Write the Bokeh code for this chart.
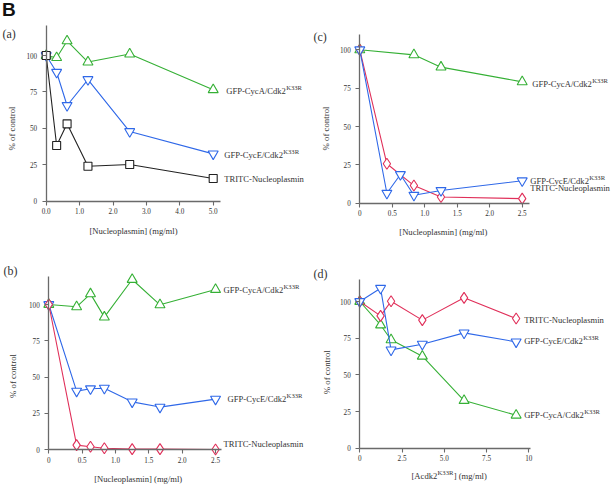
import math
from bokeh.plotting import figure
from bokeh.layouts import column, row
from bokeh.models import Label, FixedTicker
from bokeh.core.properties import value
from bokeh.embed import file_html
from bokeh.resources import INLINE

# ---------------- data ----------------
a_x = [0, 0.3125, 0.625, 1.25, 2.5, 5.0]
a_cyca = [100, 98.5, 110, 95.5, 101, 76.5]
a_cyce = [100, 88.5, 65.7, 83.5, 47.8, 32.5]
a_tritc = [100, 38.2, 53.1, 24.0, 25.2, 15.6]

b_x = [0, 0.417, 0.625, 0.833, 1.25, 1.667, 2.5]
b_cyca = [100, 98.4, 107.3, 91.3, 117.2, 99.8, 110.3]
b_cyce = [100, 40.4, 42.0, 42.4, 33.0, 29.4, 34.9]
b_tritc = [100, 3.2, 2.1, 1.1, 0.5, 0.5, 0.2]

c_x_cyca = [0, 0.833, 1.25, 2.5]
c_cyca = [100, 96.7, 88.7, 79.1]
c_x_cyce = [0, 0.417, 0.625, 0.833, 1.25, 2.5]
c_cyce = [100, 6.5, 18.7, 5.2, 8.3, 14.6]
c_x_tritc = [0, 0.417, 0.833, 1.25, 2.5]
c_tritc = [100, 25.7, 11.5, 4.0, 3.0]

d_x = [0, 1.23, 1.85, 3.7, 6.17, 9.25]
d_tritc = [100, 90.2, 100.2, 87.3, 102.5, 88.4]
d_cyce = [100, 109.0, 67.0, 70.9, 78.6, 72.5]
d_cyca = [100, 84.0, 73.9, 62.7, 32.5, 22.5]

y_ticks = [0, 25, 50, 75, 100]
y_tick_labels = ["0", "25", "50", "75", "100"]
a_xticks = [0, 1, 2, 3, 4, 5]
a_xtick_labels = ["0.0", "1.0", "2.0", "3.0", "4.0", "5.0"]
bc_xticks = [0, 0.5, 1.0, 1.5, 2.0, 2.5]
bc_xtick_labels = ["0", "0.5", "1.0", "1.5", "2.0", "2.5"]
d_xticks = [0, 2.5, 5.0, 7.5, 10]
d_xtick_labels = ["0", "2.5", "5.0", "7.5", "10"]

lbl_cyca = "GFP-CycA/Cdk2"
lbl_cyce = "GFP-CycE/Cdk2"
lbl_sup = "K33R"
lbl_tritc = "TRITC-Nucleoplasmin"
xtitle_np = "[Nucleoplasmin] (mg/ml)"
ytitle = "% of control"

# ---------------- styles ----------------
GREEN = "#35b035"
BLUE = "#2f68e8"
RED = "#e0305a"
BLACK = "#222222"
SERIF = "Liberation Serif"
TXT = "#333333"
FS = 8.6
SUPFS = 6.6

TIMES_W = {"G": 722, "F": 556, "P": 556, "-": 333, "C": 667, "y": 500, "c": 444,
           "A": 722, "/": 278, "d": 500, "k": 500, "2": 500, "E": 611, "[": 333,
           "K": 722, "3": 500, "R": 667}


def tw(s, fs):
    return sum(TIMES_W.get(ch, 500) for ch in s) * fs / 1000.0


class Panel:
    """Frame covers the whole figure; axes sit at x=0 / y=0 (fixed_location)."""

    def __init__(self, w, h, ox, oy, sx, sy, xb, yb, xticks, xlabels):
        self.ox, self.oy, self.sx, self.sy = ox, oy, sx, sy
        x0 = -ox / sx
        x1 = (w - ox) / sx
        y0 = -(h - oy) / sy
        y1 = oy / sy
        p = figure(width=w, height=h, x_range=(x0, x1), y_range=(y0, y1),
                   output_backend="svg", toolbar_location=None,
                   min_border_left=0, min_border_right=0,
                   min_border_top=0, min_border_bottom=0)
        p.grid.visible = False
        p.outline_line_color = None
        p.background_fill_color = "white"
        p.border_fill_color = "white"
        for ax in (p.xaxis[0], p.yaxis[0]):
            ax.fixed_location = 0
            ax.axis_line_color = "#6a6a6a"
            ax.axis_line_width = 1.3
            ax.major_tick_line_color = "#6a6a6a"
            ax.major_tick_line_width = 1.1
            ax.major_tick_in = 0
            ax.major_tick_out = 4
            ax.minor_tick_line_color = None
            ax.major_label_text_font = SERIF
            ax.major_label_text_font_size = "7.2px"
            ax.major_label_text_color = TXT
        p.xaxis[0].bounds = (0, xb)
        p.yaxis[0].bounds = (0, yb)
        p.xaxis[0].ticker = FixedTicker(ticks=xticks)
        p.xaxis[0].major_label_overrides = {t: l for t, l in zip(xticks, xlabels)}
        p.xaxis[0].major_label_standoff = 3
        p.yaxis[0].ticker = FixedTicker(ticks=y_ticks)
        p.yaxis[0].major_label_overrides = {t: l for t, l in zip(y_ticks, y_tick_labels)}
        p.yaxis[0].major_label_standoff = 5
        self.p = p

    def d(self, px, py):
        return (px - self.ox) / self.sx, (self.oy - py) / self.sy

    def label(self, px, py, text, fs="8.6px", angle=0, align="left", baseline="middle",
              font=SERIF, style="normal", color=TXT):
        x, y = self.d(px, py)
        self.p.add_layout(Label(x=x, y=y, text=text, text_font=font, text_font_size=fs,
                                text_align=align, text_baseline=baseline, angle=angle,
                                text_color=color, text_font_style=style))

    def series(self, xs, ys, color, marker, size):
        self.p.line(xs, ys, line_color=color, line_width=1.1)
        self.p.scatter(xs, ys, marker=marker, size=size, fill_color="white",
                       line_color=color, line_width=1.1)

    def tag(self, x, y, main, dx, dy, sup=None):
        self.p.text(x=[x], y=[y], text=[main], x_offset=dx, y_offset=dy,
                    text_font=value(SERIF), text_font_size=f"{FS}px",
                    text_baseline="middle", text_align="left", text_color=TXT)
        if sup:
            self.p.text(x=[x], y=[y], text=[sup], x_offset=dx + tw(main, FS) + 0.3,
                        y_offset=dy - 3.5, text_font=value(SERIF),
                        text_font_size=f"{SUPFS}px", text_baseline="middle",
                        text_align="left", text_color=TXT)


# ---------------- panel (a) ----------------
A = Panel(311, 240, 45.7, 200.7, 33.4, 1.457, 5.22, 120.6, a_xticks, a_xtick_labels)
A.series(a_x, a_cyca, GREEN, "triangle", 10)
A.series(a_x, a_cyce, BLUE, "inverted_triangle", 10)
A.series(a_x, a_tritc, BLACK, "square", 8)
A.tag(a_x[-1], a_cyca[-1], lbl_cyca, 13, 1.5, lbl_sup)
A.tag(a_x[-1], a_cyce[-1], lbl_cyce, 11, 1.5, lbl_sup)
A.tag(a_x[-1], a_tritc[-1], lbl_tritc, 11, 1.0)
A.label(1.5, -2, "B", fs="19px", baseline="top", font="Liberation Sans", style="bold",
        color="#111111")
A.label(2, 33, "(a)", fs="12px")
A.label(11.5, 128, ytitle, fs="8.8px", angle=math.pi / 2, align="center")
A.label(133, 230, xtitle_np, align="center")

# ---------------- panel (c) ----------------
C = Panel(300, 240, 48.3, 202.7, 64.96, 1.534, 2.61, 110, bc_xticks, bc_xtick_labels)
C.series(c_x_cyca, c_cyca, GREEN, "triangle", 10)
C.series(c_x_tritc, c_tritc, RED, "diamond", 11)
C.series(c_x_cyce, c_cyce, BLUE, "inverted_triangle", 10)
C.tag(c_x_cyca[-1], c_cyca[-1], lbl_cyca, 10, 2, lbl_sup)
C.tag(c_x_cyce[-1], c_cyce[-1], lbl_cyce, 8, 0, lbl_sup)
C.tag(c_x_tritc[-1], c_tritc[-1], lbl_tritc, 8, -10.8)
C.label(2, 36, "(c)", fs="12px")
C.label(14, 128, ytitle, fs="8.8px", angle=math.pi / 2, align="center")
C.label(131.8, 231, xtitle_np, align="center")

# ---------------- panel (b) ----------------
Bp = Panel(311, 246, 48.3, 209.3, 66.7, 1.453, 2.59, 119.5, bc_xticks, bc_xtick_labels)
Bp.series(b_x, b_cyca, GREEN, "triangle", 10)
Bp.series(b_x, b_cyce, BLUE, "inverted_triangle", 10)
Bp.series(b_x, b_tritc, RED, "diamond", 11)
Bp.tag(b_x[-1], b_cyca[-1], lbl_cyca, 8, 0, lbl_sup)
Bp.tag(b_x[-1], b_cyce[-1], lbl_cyce, 12, 0, lbl_sup)
Bp.tag(b_x[-1], b_tritc[-1], lbl_tritc, 8, -6)
Bp.label(3, 30, "(b)", fs="12px")
Bp.label(12.2, 135.5, ytitle, fs="8.8px", angle=math.pi / 2, align="center")
Bp.label(137.7, 238, xtitle_np, align="center")

# ---------------- panel (d) ----------------
D = Panel(300, 246, 48.3, 207.7, 16.9, 1.467, 10.1, 114.8, d_xticks, d_xtick_labels)
D.series(d_x, d_cyca, GREEN, "triangle", 10)
D.series(d_x, d_tritc, RED, "diamond", 11)
D.series(d_x, d_cyce, BLUE, "inverted_triangle", 10)
D.tag(d_x[-1], d_tritc[-1], lbl_tritc, 8, 1)
D.tag(d_x[-1], d_cyce[-1], lbl_cyce, 8, -1.3, lbl_sup)
D.tag(d_x[-1], d_cyca[-1], lbl_cyca, 8, 0, lbl_sup)
D.label(2, 33, "(d)", fs="12px")
D.label(15, 131.7, ytitle, fs="8.8px", angle=math.pi / 2, align="center")
xs0 = 100
D.label(xs0, 235, "[Acdk2")
xs1 = xs0 + tw("[Acdk2", FS) + 0.3
D.label(xs1, 231.5, lbl_sup, fs=f"{SUPFS}px")
D.label(xs1 + tw(lbl_sup, SUPFS) + 0.3, 235, "] (mg/ml)")

layout = column(row(A.p, C.p), row(Bp.p, D.p))
open("out.html", "w").write(file_html(layout, INLINE))
